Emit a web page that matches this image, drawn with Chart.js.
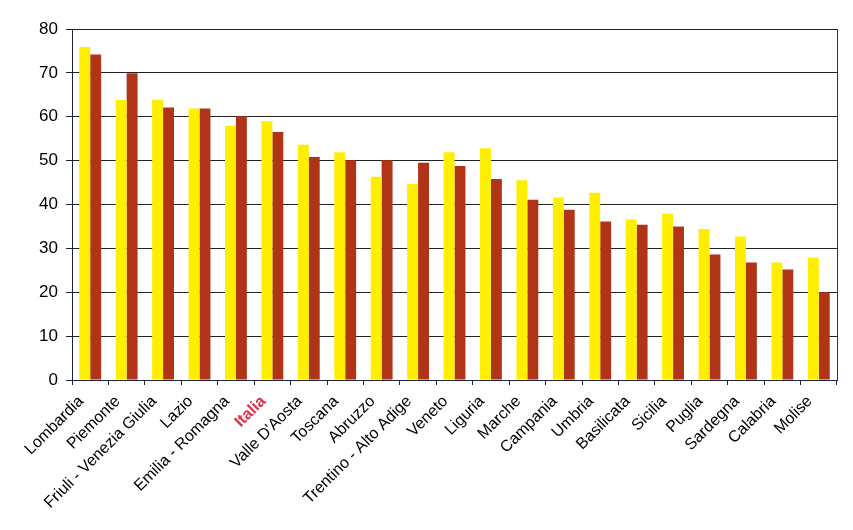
<!DOCTYPE html>
<html>
<head>
<meta charset="utf-8">
<script src="https://cdn.jsdelivr.net/npm/chart.js@4"></script>
<style>
  html, body { margin: 0; padding: 0; background: #fff; }
  #wrap { width: 853px; height: 530px; }
</style>
</head>
<body>
<div id="wrap"><canvas id="chart" width="853" height="530"></canvas></div>
<script>
// regions, ordered as in the picture
const regions = ['Lombardia', 'Piemonte', 'Friuli - Venezia Giulia', 'Lazio', 'Emilia - Romagna',
  'Italia', "Valle D'Aosta", 'Toscana', 'Abruzzo', 'Trentino - Alto Adige', 'Veneto', 'Liguria',
  'Marche', 'Campania', 'Umbria', 'Basilicata', 'Sicilia', 'Puglia', 'Sardegna', 'Calabria', 'Molise'];

// yellow series
const serieA = [75.9, 63.8, 63.8, 61.9, 57.9, 59.0, 53.6, 51.9, 46.3, 44.7, 51.9, 52.8,
  45.5, 41.6, 42.7, 36.6, 37.9, 34.4, 32.7, 26.8, 27.9];

// brown series
const serieB = [74.2, 69.9, 62.1, 61.9, 60.1, 56.5, 50.8, 50.1, 50.1, 49.5, 48.8, 45.8,
  41.1, 38.8, 36.1, 35.4, 35.0, 28.6, 26.8, 25.2, 20.0];

const yTicks = [0, 10, 20, 30, 40, 50, 60, 70, 80];

const axisColor = '#1a2440';

// right border of the plot area
const rightBorder = {
  id: 'rightBorder',
  afterDraw(chart) {
    const { ctx, chartArea } = chart;
    ctx.save();
    ctx.strokeStyle = '#333';
    ctx.lineWidth = 1;
    ctx.beginPath();
    ctx.moveTo(Math.round(chartArea.right) + 0.5, chartArea.top);
    ctx.lineTo(Math.round(chartArea.right) + 0.5, chartArea.bottom);
    ctx.stroke();
    ctx.restore();
  }
};

const ctx = document.getElementById('chart').getContext('2d');

new Chart(ctx, {
  type: 'bar',
  data: {
    labels: regions,
    datasets: [
      { data: serieA, backgroundColor: '#FFEE00', borderWidth: 0 },
      { data: serieB, backgroundColor: '#B03418', borderWidth: 0 }
    ]
  },
  options: {
    responsive: false,
    animation: false,
    devicePixelRatio: 1,
    layout: { padding: { top: 29, right: 16, left: 0, bottom: 0 } },
    plugins: { legend: { display: false }, tooltip: { enabled: false } },
    datasets: { bar: { categoryPercentage: 0.6, barPercentage: 1.0 } },
    scales: {
      x: {
        grid: {
          offset: true,
          drawOnChartArea: false,
          drawTicks: true,
          tickLength: 5,
          color: axisColor
        },
        border: { color: axisColor, width: 1 },
        ticks: {
          maxRotation: 45,
          minRotation: 45,
          autoSkip: false,
          padding: 7,
          labelOffset: -9,
          color: (c) => regions[c.index] === 'Italia' ? '#E0304A' : '#000',
          font: (c) => ({
            family: '"Liberation Sans", Arial, sans-serif',
            size: 16,
            weight: regions[c.index] === 'Italia' ? 'bold' : 'normal'
          })
        },
        afterFit: (scale) => { scale.height = 150; }
      },
      y: {
        min: 0,
        max: 80,
        afterBuildTicks: (scale) => { scale.ticks = yTicks.map(v => ({ value: v })); },
        grid: {
          color: '#222',
          lineWidth: 1,
          tickLength: 6,
          tickColor: axisColor
        },
        border: { color: axisColor, width: 1 },
        ticks: {
          color: '#000',
          padding: 8,
          font: { family: '"Liberation Sans", Arial, sans-serif', size: 17 }
        },
        afterFit: (scale) => { scale.width = 72; }
      }
    }
  },
  plugins: [rightBorder]
});
</script>
</body>
</html>
